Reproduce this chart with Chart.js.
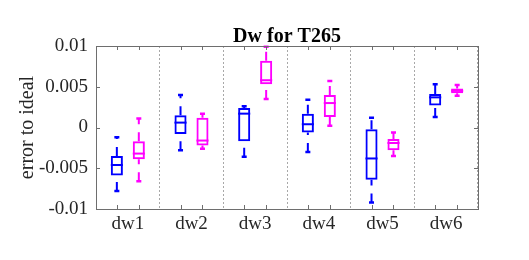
<!DOCTYPE html>
<html>
<head>
<meta charset="utf-8">
<script src="https://cdn.jsdelivr.net/npm/chart.js@4/dist/chart.umd.min.js"></script>
<style>
  html, body { margin: 0; padding: 0; background: #ffffff; }
</style>
</head>
<body>
<canvas id="box-chart" width="529" height="260"></canvas>
<script>
// categories and tick labels
const categories = ['dw1', 'dw2', 'dw3', 'dw4', 'dw5', 'dw6'];
const yTicks = [-0.01, -0.005, 0, 0.005, 0.01];
const yTickLabels = ['-0.01', '-0.005', '0', '0.005', '0.01'];

// blue series (box stats)
const blueHigh = [-0.0012, 0.0040, 0.0026, 0.0034, 0.0012, 0.0053];
const blueQ3   = [-0.0035, 0.0015, 0.0024, 0.0017, -0.0002, 0.0041];
const blueMed  = [-0.0046, 0.0006, 0.0017, 0.0004, -0.0038, 0.0037];
const blueQ1   = [-0.0059, -0.0008, -0.0017, -0.0006, -0.0064, 0.0027];
const blueLow  = [-0.0078, -0.0028, -0.0036, -0.0030, -0.0092, 0.0013];

// magenta series
const magHigh = [0.0011, 0.0017, 0.0099, 0.0057, -0.0006, 0.0052];
const magQ3   = [-0.0017, 0.0012, 0.0082, 0.0040, -0.0014, 0.0048];
const magMed  = [-0.0032, -0.0016, 0.0058, 0.0030, -0.0019, 0.0045];
const magQ1   = [-0.0039, -0.0022, 0.0053, 0.0013, -0.0028, 0.0042];
const magLow  = [-0.0066, -0.0026, 0.0035, 0.0002, -0.0035, 0.0039];

const blue = '#0000ff';
const magenta = '#ff00ff';
const axisGray = '#6e6e6e';
const serif = '"Liberation Serif", "DejaVu Serif", serif';

const stats = [
  { high: blueHigh, q3: blueQ3, med: blueMed, q1: blueQ1, low: blueLow, color: blue },
  { high: magHigh, q3: magQ3, med: magMed, q1: magQ1, low: magLow, color: magenta }
];

// whiskers, medians, caps, frame and ticks
const boxExtras = {
  id: 'boxExtras',
  afterDatasetsDraw(chart) {
    const ctx = chart.ctx;
    const y = chart.scales.y;
    ctx.save();
    stats.forEach((s, d) => {
      const meta = chart.getDatasetMeta(d);
      ctx.strokeStyle = s.color;
      ctx.lineWidth = 2;
      meta.data.forEach((bar, i) => {
        const x = bar.x;
        const hw = bar.width / 2;
        // median
        ctx.setLineDash([]);
        ctx.beginPath();
        ctx.moveTo(x - hw, y.getPixelForValue(s.med[i]));
        ctx.lineTo(x + hw, y.getPixelForValue(s.med[i]));
        ctx.stroke();
        // whiskers (dashed, drawn from the lower value up)
        ctx.setLineDash([9, 8]);
        ctx.beginPath();
        ctx.moveTo(x, y.getPixelForValue(s.q3[i]));
        ctx.lineTo(x, y.getPixelForValue(s.high[i]));
        ctx.moveTo(x, y.getPixelForValue(s.low[i]));
        ctx.lineTo(x, y.getPixelForValue(s.q1[i]));
        ctx.stroke();
        // caps
        ctx.setLineDash([]);
        ctx.lineWidth = 2.5;
        ctx.beginPath();
        ctx.moveTo(x - 2.5, y.getPixelForValue(s.high[i]));
        ctx.lineTo(x + 2.5, y.getPixelForValue(s.high[i]));
        ctx.moveTo(x - 2.5, y.getPixelForValue(s.low[i]));
        ctx.lineTo(x + 2.5, y.getPixelForValue(s.low[i]));
        ctx.stroke();
        ctx.lineWidth = 2;
      });
    });
    ctx.restore();
  },
  afterDraw(chart) {
    const ctx = chart.ctx;
    const a = chart.chartArea;
    const y = chart.scales.y;
    ctx.save();
    ctx.strokeStyle = axisGray;
    ctx.lineWidth = 1;
    ctx.setLineDash([]);
    ctx.strokeRect(Math.round(a.left) + 0.5, Math.round(a.top) + 0.5,
      Math.round(a.right - a.left), Math.round(a.bottom - a.top));
    ctx.beginPath();
    // x tick marks at each box, inward from top and bottom
    stats.forEach((s, d) => {
      chart.getDatasetMeta(d).data.forEach(bar => {
        const x = Math.round(bar.x) + 0.5;
        ctx.moveTo(x, a.bottom);
        ctx.lineTo(x, a.bottom - 4);
        ctx.moveTo(x, a.top);
        ctx.lineTo(x, a.top + 4);
      });
    });
    // y tick marks, inward from left and right
    yTicks.forEach(v => {
      const py = Math.round(y.getPixelForValue(v)) + 0.5;
      ctx.moveTo(a.left, py);
      ctx.lineTo(a.left + 4, py);
      ctx.moveTo(a.right, py);
      ctx.lineTo(a.right - 4, py);
    });
    ctx.stroke();
    // title
    ctx.fillStyle = '#000000';
    ctx.font = 'bold 20px ' + serif;
    ctx.textAlign = 'center';
    ctx.textBaseline = 'alphabetic';
    ctx.fillText('Dw for T265', (a.left + a.right) / 2, 42);
    ctx.restore();
  }
};

const ctx = document.getElementById('box-chart').getContext('2d');
const chart = new Chart(ctx, {
  type: 'bar',
  data: {
    labels: categories,
    datasets: stats.map(s => ({
      label: s.color,
      data: categories.map((c, i) => [s.q1[i], s.q3[i]]),
      backgroundColor: 'rgba(0,0,0,0)',
      borderColor: s.color,
      borderWidth: 2,
      borderSkipped: false,
      categoryPercentage: 0.69,
      barPercentage: 0.55
    }))
  },
  options: {
    responsive: false,
    animation: false,
    devicePixelRatio: 1,
    layout: { padding: { top: 46, right: 51, bottom: 0, left: 0 } },
    scales: {
      x: {
        offset: true,
        grid: {
          offset: true,
          drawTicks: false,
          lineWidth: 1,
          color: c => (c.index === 0 || c.index === categories.length) ? 'rgba(0,0,0,0)' : '#a8a8a8'
        },
        border: { display: false, dash: [2, 2] },
        ticks: { font: { family: serif, size: 19 }, color: '#262626', padding: 4 },
        afterFit: scale => { scale.height = 51; }
      },
      y: {
        min: -0.01,
        max: 0.01,
        afterBuildTicks: scale => { scale.ticks = yTicks.map(v => ({ value: v })); },
        ticks: {
          font: { family: serif, size: 19 },
          color: '#262626',
          padding: 8,
          callback: v => yTickLabels[yTicks.indexOf(v)]
        },
        grid: { display: false, drawTicks: false },
        border: { display: false },
        title: {
          display: true,
          text: 'error to ideal',
          font: { family: serif, size: 20 },
          color: '#262626',
          padding: { top: 16, bottom: 0 }
        },
        afterFit: scale => { scale.width = 96; }
      }
    },
    plugins: {
      legend: { display: false },
      tooltip: { enabled: false }
    }
  },
  plugins: [boxExtras]
});
</script>
</body>
</html>
